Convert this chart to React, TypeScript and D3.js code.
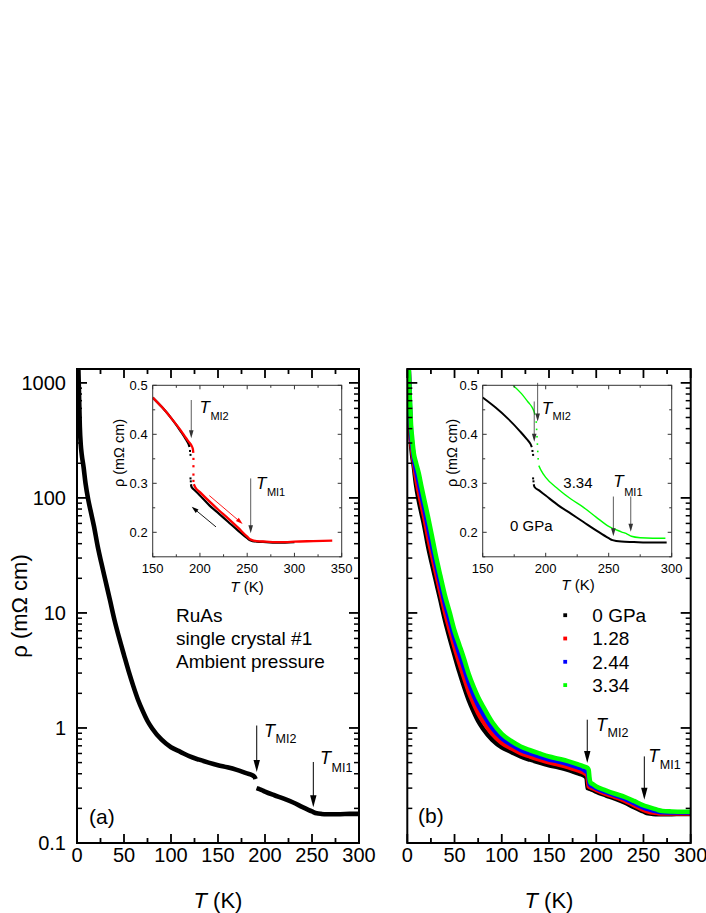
import React from "react";
import * as d3 from "d3";

const FONT = "Arial, 'Liberation Sans', Helvetica, sans-serif";

// ---- main panels: T (K) vs rho (mOhm cm) ----
const temps = [1.3, 2, 3, 4, 5, 7, 9, 12, 15, 18, 22, 26, 30, 35, 40, 45, 50, 55, 60, 65, 70, 75, 80, 90, 100, 110, 120, 130, 140, 150, 160, 170, 180, 186, 189, 190, 191, 192, 193, 194, 196, 200, 210, 220, 230, 240, 250, 255, 260, 265, 270, 280, 290, 300];
const rho0GPa = [1500, 900, 420, 290, 240, 185, 135, 96, 74, 57, 38, 27, 19.5, 13, 8.6, 6.0, 4.3, 3.1, 2.3, 1.75, 1.4, 1.15, 0.99, 0.79, 0.68, 0.62, 0.565, 0.53, 0.5, 0.475, 0.455, 0.432, 0.405, 0.39, 0.375, 0.36, 0.3, 0.298, 0.296, 0.294, 0.29, 0.28, 0.26, 0.243, 0.225, 0.205, 0.188, 0.181, 0.179, 0.178, 0.178, 0.178, 0.179, 0.179];
const rho128GPa = [1500, 930, 485, 328, 269, 202, 155, 115, 88, 67.7, 46, 32.4, 23, 15.2, 10.1, 7.1, 5.05, 3.7, 2.76, 2.08, 1.65, 1.345, 1.147, 0.886, 0.743, 0.666, 0.604, 0.564, 0.531, 0.503, 0.482, 0.458, 0.43, 0.413, 0.398, 0.392, 0.375, 0.31, 0.307, 0.305, 0.3, 0.29, 0.268, 0.251, 0.234, 0.213, 0.194, 0.188, 0.184, 0.182, 0.181, 0.181, 0.181, 0.181];
const rho244GPa = [1550, 965, 563, 372, 303, 220, 179, 138, 105, 80.8, 56, 39, 27.2, 17.9, 11.9, 8.45, 5.96, 4.44, 3.33, 2.48, 1.95, 1.58, 1.337, 0.998, 0.814, 0.717, 0.646, 0.601, 0.565, 0.533, 0.511, 0.486, 0.456, 0.438, 0.42, 0.416, 0.41, 0.38, 0.325, 0.318, 0.312, 0.3, 0.278, 0.26, 0.243, 0.222, 0.203, 0.197, 0.192, 0.188, 0.185, 0.184, 0.184, 0.184];
const rho334GPa = [1600, 1000, 650, 420, 340, 240, 205, 165, 125, 96, 68, 47, 32, 21, 14, 10, 7, 5.3, 4.0, 2.95, 2.3, 1.85, 1.55, 1.12, 0.89, 0.77, 0.69, 0.64, 0.6, 0.565, 0.54, 0.515, 0.485, 0.465, 0.456, 0.452, 0.447, 0.43, 0.36, 0.335, 0.326, 0.31, 0.287, 0.268, 0.252, 0.232, 0.212, 0.206, 0.2, 0.194, 0.19, 0.188, 0.187, 0.187];

const pressureLabels = ["0 GPa", "1.28", "2.44", "3.34"];
const pressureColors = ["#000000", "#ff0000", "#0000ff", "#00ff00"];
const pressureSeries = [rho0GPa, rho128GPa, rho244GPa, rho334GPa];

const xTicksMain = [0, 50, 100, 150, 200, 250, 300];
const yTicksMain = [0.1, 1, 10, 100, 1000];
const yTickLabelsMain = ["0.1", "1", "10", "100", "1000"];

// ---- inset (a): cooling (black) and warming (red), linear rho ----
const coolLowT = [150, 160, 170, 180, 185, 188, 189];
const coolLowRho = [0.475, 0.455, 0.432, 0.405, 0.39, 0.38, 0.374];
const coolHighT = [190.5, 191, 195, 200, 210, 220, 230, 240, 250, 253, 260, 270, 280, 290, 300];
const coolHighRho = [0.298, 0.293, 0.285, 0.275, 0.255, 0.238, 0.221, 0.204, 0.188, 0.184, 0.181, 0.18, 0.179, 0.179, 0.18];
const coolDotsT = [189.5, 190, 190, 190.3];
const coolDotsRho = [0.366, 0.358, 0.31, 0.304];
const warmLowT = [150, 160, 170, 180, 185, 188, 191, 192.5, 193];
const warmLowRho = [0.475, 0.455, 0.432, 0.407, 0.393, 0.385, 0.377, 0.37, 0.362];
const warmHighT = [193.5, 195, 200, 210, 220, 230, 240, 250, 253, 260, 270, 280, 290, 300, 320, 340];
const warmHighRho = [0.298, 0.292, 0.282, 0.263, 0.245, 0.228, 0.21, 0.191, 0.186, 0.182, 0.181, 0.18, 0.18, 0.181, 0.182, 0.183];
const warmDotsT = [193, 193, 193, 193];
const warmDotsRho = [0.35, 0.335, 0.318, 0.305];

// ---- inset (b): 0 GPa (black) and 3.34 GPa (green) ----
const bBlackHighT = [190.5, 191, 195, 200, 210, 220, 230, 240, 250, 253, 260, 270, 280, 290, 296];
const bBlackHighRho = [0.298, 0.293, 0.285, 0.275, 0.255, 0.238, 0.221, 0.204, 0.188, 0.184, 0.181, 0.18, 0.179, 0.179, 0.179];
const greenLowT = [174, 180, 186, 189, 190.5, 191.5];
const greenLowRho = [0.5, 0.485, 0.466, 0.456, 0.448, 0.44];
const greenDotsT = [192.5, 192.8, 193.1, 193.4, 193.7, 194];
const greenDotsRho = [0.425, 0.41, 0.395, 0.38, 0.365, 0.35];
const greenHighT = [194.5, 196, 200, 210, 220, 230, 240, 250, 260, 265, 268, 275, 285, 295];
const greenHighRho = [0.336, 0.328, 0.312, 0.288, 0.268, 0.251, 0.231, 0.212, 0.201, 0.196, 0.192, 0.189, 0.188, 0.188];

const insetYTicks = [0.2, 0.3, 0.4, 0.5];

const pairs = (t: number[], r: number[]) => t.map((v, i) => [v, r[i]] as [number, number]);

function arrowHead(x1: number, y1: number, x2: number, y2: number, len: number, half: number) {
  const a = Math.atan2(y2 - y1, x2 - x1);
  const bx = x2 - len * Math.cos(a);
  const by = y2 - len * Math.sin(a);
  const px = -Math.sin(a) * half;
  const py = Math.cos(a) * half;
  return `M${x2},${y2}L${bx + px},${by + py}L${bx - px},${by - py}Z`;
}

function Arrow({ x1, y1, x2, y2, color = "#000", len = 11, half = 3, w = 1 }: any) {
  const a = Math.atan2(y2 - y1, x2 - x1);
  return (
    <g>
      <line x1={x1} y1={y1} x2={x2 - (len - 1) * Math.cos(a)} y2={y2 - (len - 1) * Math.sin(a)} stroke={color} strokeWidth={w} />
      <path d={arrowHead(x1, y1, x2, y2, len, half)} fill={color} />
    </g>
  );
}

function TLabel({ x, y, sub, fs, subFs, dx, dy }: any) {
  return (
    <text x={x} y={y} fontFamily={FONT} fontSize={fs} fill="#000">
      <tspan fontStyle="italic">T</tspan>
      <tspan fontSize={subFs} dx={dx} dy={dy}>{sub}</tspan>
    </text>
  );
}

function MainFrame({ x, y, showYLabels }: any) {
  const [x0, x1] = x.range();
  const [y0, y1] = y.range();
  const minorX = d3.range(0, 301, 25);
  const minorY = y.ticks().filter((v: number) => !yTicksMain.some((m) => Math.abs(m - v) / m < 1e-6));
  return (
    <g>
      {minorX.map((v) => {
        const major = v % 50 === 0;
        const l = major ? 9 : 5;
        return (
          <g key={"x" + v}>
            <line x1={x(v)} x2={x(v)} y1={y0} y2={y0 - l} stroke="#000" strokeWidth={1.8} />
            <line x1={x(v)} x2={x(v)} y1={y1} y2={y1 + l} stroke="#000" strokeWidth={1.8} />
          </g>
        );
      })}
      {yTicksMain.map((v) => (
        <g key={"y" + v}>
          <line x1={x0} x2={x0 + 10} y1={y(v)} y2={y(v)} stroke="#000" strokeWidth={1.8} />
          <line x1={x1} x2={x1 - 10} y1={y(v)} y2={y(v)} stroke="#000" strokeWidth={1.8} />
        </g>
      ))}
      {minorY.map((v: number) => (
        <g key={"ym" + v}>
          <line x1={x0} x2={x0 + 5} y1={y(v)} y2={y(v)} stroke="#000" strokeWidth={1.5} />
          <line x1={x1} x2={x1 - 5} y1={y(v)} y2={y(v)} stroke="#000" strokeWidth={1.5} />
        </g>
      ))}
      <rect x={x0} y={y1} width={x1 - x0} height={y0 - y1} fill="none" stroke="#000" strokeWidth={2} />
      {xTicksMain.map((v) => (
        <text key={"xl" + v} x={x(v)} y={862} textAnchor="middle" fontFamily={FONT} fontSize={20}>{v}</text>
      ))}
      {showYLabels &&
        yTicksMain.map((v, i) => (
          <text key={"yl" + v} x={66} y={y(v) + 7} textAnchor="end" fontFamily={FONT} fontSize={20}>{yTickLabelsMain[i]}</text>
        ))}
      <text x={(x0 + x1) / 2} y={908} textAnchor="middle" fontFamily={FONT} fontSize={22}>
        <tspan fontStyle="italic">T</tspan> (K)
      </text>
    </g>
  );
}

function InsetFrame({ x, y, xTicks, labelX, labelY, yLabelX }: any) {
  const [x0, x1] = x.range();
  const [y0, y1] = y.range();
  const minorX = d3.range(x.domain()[0], x.domain()[1] + 1, 25);
  const minorY = [0.15, 0.2, 0.25, 0.3, 0.35, 0.4, 0.45, 0.5];
  return (
    <g>
      {minorX.map((v: number) => {
        const l = v % 50 === 0 ? 4 : 2.5;
        return (
          <g key={"ix" + v}>
            <line x1={x(v)} x2={x(v)} y1={y0} y2={y0 - l} stroke="#333" />
            <line x1={x(v)} x2={x(v)} y1={y1} y2={y1 + l} stroke="#333" />
          </g>
        );
      })}
      {minorY.map((v) => {
        const l = Math.round(v * 100) % 10 === 0 ? 4 : 2.5;
        return (
          <g key={"iy" + v}>
            <line x1={x0} x2={x0 + l} y1={y(v)} y2={y(v)} stroke="#333" />
            <line x1={x1} x2={x1 - l} y1={y(v)} y2={y(v)} stroke="#333" />
          </g>
        );
      })}
      <rect x={x0} y={y1} width={x1 - x0} height={y0 - y1} fill="none" stroke="#333" strokeWidth={1} />
      {xTicks.map((v: number) => (
        <text key={"ixl" + v} x={x(v)} y={572.5} textAnchor="middle" fontFamily={FONT} fontSize={13}>{v}</text>
      ))}
      {insetYTicks.map((v) => (
        <text key={"iyl" + v} x={x0 - 5} y={y(v) + 4.8} textAnchor="end" fontFamily={FONT} fontSize={13}>{v.toFixed(1)}</text>
      ))}
      <text x={labelX} y={labelY} textAnchor="middle" fontFamily={FONT} fontSize={15}>
        <tspan fontStyle="italic">T</tspan> (K)
      </text>
      <text transform={`translate(${yLabelX},453) rotate(-90)`} textAnchor="middle" fontFamily={FONT} fontSize={14.5}>
        ρ (mΩ cm)
      </text>
    </g>
  );
}

export default function App() {
  const y = d3.scaleLog().domain([0.1, 1320]).range([843, 369]);
  const xA = d3.scaleLinear().domain([0, 300]).range([77, 359]);
  const xB = d3.scaleLinear().domain([0, 300]).range([407.3, 690.7]);

  const lineFor = (xs: any, ys: any) =>
    d3.line<[number, number]>().x((d) => xs(d[0])).y((d) => ys(d[1])).curve(d3.curveMonotoneX);

  const lineA = lineFor(xA, y);
  const lineB = lineFor(xB, y);
  const aAll = pairs(temps, rho0GPa);
  const aLow = aAll.filter((d) => d[0] <= 190);
  const aHigh = aAll.filter((d) => d[0] >= 191);

  // insets
  const iy = d3.scaleLinear().domain([0.15, 0.5]).range([556.8, 385.3]);
  const ixA = d3.scaleLinear().domain([150, 350]).range([152.7, 341.7]);
  const ixB = d3.scaleLinear().domain([150, 300]).range([482.7, 671.7]);
  const insA = lineFor(ixA, iy);
  const insB = lineFor(ixB, iy);

  return (
    <svg width={706} height={913} style={{ position: "absolute", left: 0, top: 0, background: "#fff" }}>
      <defs>
        <clipPath id="clipA"><rect x={77} y={369} width={282} height={474} /></clipPath>
        <clipPath id="clipB"><rect x={407.3} y={369} width={283.4} height={474} /></clipPath>
        <clipPath id="clipIA"><rect x={152.7} y={385.3} width={189} height={171.5} /></clipPath>
        <clipPath id="clipIB"><rect x={482.7} y={385.3} width={189} height={171.5} /></clipPath>
      </defs>

      {/* axis title */}
      <text transform="translate(27,606) rotate(-90)" textAnchor="middle" fontFamily={FONT} fontSize={22}>
        ρ (mΩ cm)
      </text>

      {/* ---------- panel (a) ---------- */}
      <g clipPath="url(#clipA)">
        <path d={lineA(aLow) || ""} fill="none" stroke="#000" strokeWidth={4.6} strokeLinejoin="round" />
        <path d={lineA(aHigh) || ""} fill="none" stroke="#000" strokeWidth={4.6} strokeLinejoin="round" />
      </g>
      <MainFrame x={xA} y={y} showYLabels={true} />

      <Arrow x1={xA(191.2)} y1={y(1.05)} x2={xA(191.2)} y2={y(0.414)} len={12} half={3.2} />
      <TLabel x={264} y={736.5} sub="MI2" fs={18} subFs={12.5} dx={0.5} dy={6.5} />
      <Arrow x1={xA(251.4)} y1={y(0.506)} x2={xA(251.4)} y2={y(0.205)} len={12} half={3.2} />
      <TLabel x={320} y={764} sub="MI1" fs={18} subFs={12.5} dx={0.5} dy={7.5} />

      <text fontFamily={FONT} fontSize={19}>
        <tspan x={176} y={621.5}>RuAs</tspan>
        <tspan x={176} y={645}>single crystal #1</tspan>
        <tspan x={176} y={668.3}>Ambient pressure</tspan>
      </text>
      <text x={89} y={824} fontFamily={FONT} fontSize={21}>(a)</text>

      {/* inset (a) */}
      <rect x={152.7} y={385.3} width={189} height={171.5} fill="#fff" />
      <g clipPath="url(#clipIA)">
        <path d={insA(pairs(coolLowT, coolLowRho)) || ""} fill="none" stroke="#000" strokeWidth={2.2} />
        <path d={insA(pairs(coolHighT, coolHighRho)) || ""} fill="none" stroke="#000" strokeWidth={2.2} />
        {coolDotsT.map((t, i) => (
          <rect key={"cd" + i} x={ixA(t) - 1} y={iy(coolDotsRho[i]) - 1} width={2} height={2} fill="#000" />
        ))}
        <path d={insA(pairs(warmLowT, warmLowRho)) || ""} fill="none" stroke="#ff0000" strokeWidth={2.3} />
        <path d={insA(pairs(warmHighT, warmHighRho)) || ""} fill="none" stroke="#ff0000" strokeWidth={2.3} />
        {warmDotsT.map((t, i) => (
          <rect key={"wd" + i} x={ixA(t) - 1} y={iy(warmDotsRho[i]) - 1} width={2.2} height={2.2} fill="#ff0000" />
        ))}
      </g>
      <InsetFrame x={ixA} y={iy} xTicks={[150, 200, 250, 300, 350]} labelX={247} labelY={592} yLabelX={124} />
      <Arrow x1={ixA(190.8)} y1={iy(0.47)} x2={ixA(190.8)} y2={iy(0.392)} color="#333" len={8} half={2.3} w={0.8} />
      <TLabel x={199.5} y={413.3} sub="MI2" fs={17} subFs={11} dx={0.5} dy={7} />
      <Arrow x1={ixA(253.7)} y1={iy(0.31)} x2={ixA(253.7)} y2={iy(0.198)} color="#333" len={8} half={2.3} w={0.8} />
      <TLabel x={256} y={489.3} sub="MI1" fs={17} subFs={11} dx={0.5} dy={7} />
      <Arrow x1={ixA(209.9)} y1={iy(0.275)} x2={ixA(245.2)} y2={iy(0.217)} color="#ff0000" len={7} half={2.2} w={0.9} />
      <Arrow x1={ixA(217)} y1={iy(0.211)} x2={ixA(191.3)} y2={iy(0.252)} color="#000" len={7} half={2.2} w={0.9} />

      {/* ---------- panel (b) ---------- */}
      <g clipPath="url(#clipB)">
        {pressureSeries.map((s, i) => (
          <path key={"p" + i} d={lineB(pairs(temps, s)) || ""} fill="none" stroke={pressureColors[i]} strokeWidth={4.6} strokeLinejoin="round" />
        ))}
      </g>
      <MainFrame x={xB} y={y} showYLabels={false} />

      <Arrow x1={xB(190.5)} y1={y(1.18)} x2={xB(190.5)} y2={y(0.496)} len={12} half={3.2} />
      <TLabel x={596} y={730.5} sub="MI2" fs={18} subFs={12.5} dx={0.5} dy={6.5} />
      <Arrow x1={xB(250.9)} y1={y(0.566)} x2={xB(250.9)} y2={y(0.238)} len={12} half={3.2} />
      <TLabel x={648.3} y={762} sub="MI1" fs={18} subFs={12.5} dx={0.5} dy={6.5} />

      {pressureLabels.map((l, i) => (
        <g key={"lg" + i}>
          <rect x={563.3} y={613.3 + i * 23.3} width={3.8} height={3.8} fill={pressureColors[i]} />
          <text x={592.3} y={622 + i * 23.3} fontFamily={FONT} fontSize={19}>{l}</text>
        </g>
      ))}
      <text x={418} y={822.7} fontFamily={FONT} fontSize={21}>(b)</text>

      {/* inset (b) */}
      <rect x={482.7} y={385.3} width={189} height={171.5} fill="#fff" />
      <g clipPath="url(#clipIB)">
        <path d={insB(pairs(coolLowT, coolLowRho)) || ""} fill="none" stroke="#000" strokeWidth={2} />
        <path d={insB(pairs(bBlackHighT, bBlackHighRho)) || ""} fill="none" stroke="#000" strokeWidth={2} />
        {coolDotsT.map((t, i) => (
          <rect key={"bd" + i} x={ixB(t) - 1} y={iy(coolDotsRho[i]) - 1} width={2} height={2} fill="#000" />
        ))}
        <path d={insB(pairs(greenLowT, greenLowRho)) || ""} fill="none" stroke="#00ff00" strokeWidth={1.4} />
        <path d={insB(pairs(greenHighT, greenHighRho)) || ""} fill="none" stroke="#00ff00" strokeWidth={1.4} />
        {greenDotsT.map((t, i) => (
          <rect key={"gd" + i} x={ixB(t) - 0.8} y={iy(greenDotsRho[i]) - 0.8} width={1.6} height={1.6} fill="#00ff00" />
        ))}
      </g>
      <InsetFrame x={ixB} y={iy} xTicks={[150, 200, 250, 300]} labelX={578} labelY={590} yLabelX={457} />
      <Arrow x1={ixB(193.6)} y1={iy(0.505)} x2={ixB(193.6)} y2={iy(0.426)} color="#333" len={8} half={2.3} w={0.8} />
      <Arrow x1={ixB(190.9)} y1={iy(0.467)} x2={ixB(190.9)} y2={iy(0.385)} color="#333" len={8} half={2.3} w={0.8} />
      <TLabel x={541.7} y={414} sub="MI2" fs={17} subFs={11} dx={0.5} dy={6} />
      <text x={563.3} y={488.3} fontFamily={FONT} fontSize={15}>3.34</text>
      <text x={510} y={531} fontFamily={FONT} fontSize={15}>0 GPa</text>
      <Arrow x1={ixB(253.7)} y1={iy(0.273)} x2={ixB(253.7)} y2={iy(0.192)} color="#333" len={8} half={2.3} w={0.8} />
      <Arrow x1={ixB(267.5)} y1={iy(0.273)} x2={ixB(267.5)} y2={iy(0.201)} color="#333" len={8} half={2.3} w={0.8} />
      <TLabel x={613.3} y={486.7} sub="MI1" fs={17} subFs={11} dx={0.5} dy={9} />
    </svg>
  );
}
